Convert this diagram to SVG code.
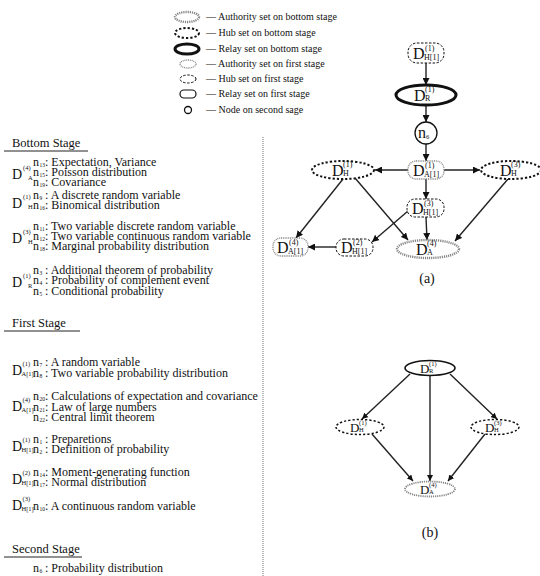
<svg xmlns="http://www.w3.org/2000/svg" width="540" height="576" viewBox="0 0 540 576" font-family="'Liberation Serif', 'Times New Roman', 'DejaVu Serif', serif">
<style>
text{font-family:'Liberation Serif', 'Times New Roman', 'DejaVu Serif', serif;fill:#111}
.lg{font-size:10px}
.t{font-size:12px}
.h{font-size:12.5px}
.sm{font-size:6.5px}
.ns{font-size:5.5px}
.D{font-size:14px}
.Dg{font-size:16px}
.Db{font-size:13px}
.sg{font-size:8px}
.sb{font-size:6.5px}
.cap{font-size:14px}
.authB{fill:#fff;stroke:#888;stroke-width:2.4;stroke-dasharray:1.2 0.9}
.hubB{fill:#fff;stroke:#111;stroke-width:2;stroke-dasharray:2.2 2}
.relB{fill:#fff;stroke:#111;stroke-width:3}
.authF{fill:#fff;stroke:#888;stroke-width:1.3;stroke-dasharray:1 0.8}
.hubF{fill:#fff;stroke:#111;stroke-width:1;stroke-dasharray:2.5 1.5}
.relF{fill:#fff;stroke:#111;stroke-width:1.2}
.sec{fill:#fff;stroke:#111;stroke-width:1.3}
.e{stroke:#222;stroke-width:1.4;fill:none}
</style>
<defs>
<marker id="ah" viewBox="0 0 10 10" refX="10" refY="5" markerWidth="7" markerHeight="7" markerUnits="userSpaceOnUse" orient="auto">
<path d="M0,0 L10,5 L0,10 z" fill="#111"/>
</marker>
<marker id="ahs" viewBox="0 0 10 10" refX="10" refY="5" markerWidth="6" markerHeight="6" markerUnits="userSpaceOnUse" orient="auto">
<path d="M0,0 L10,5 L0,10 z" fill="#111"/>
</marker>
</defs>
<rect width="540" height="576" fill="#fff"/>

<g id="legend">
<ellipse class="authB" cx="187" cy="17" rx="12" ry="5"/>
<text class="lg" x="206" y="20">— Authority set on bottom stage</text>
<ellipse class="hubB" cx="187" cy="33" rx="12" ry="5"/>
<text class="lg" x="206" y="36">— Hub set on bottom stage</text>
<ellipse class="relB" cx="187" cy="49" rx="12" ry="5"/>
<text class="lg" x="206" y="52">— Relay set on bottom stage</text>
<ellipse class="authF" cx="188" cy="64" rx="8" ry="4"/>
<text class="lg" x="206" y="67">— Authority set on first stage</text>
<ellipse class="hubF" cx="188" cy="79" rx="8" ry="4"/>
<text class="lg" x="206" y="82">— Hub set on first stage</text>
<rect class="relF" x="180" y="90" width="16" height="8" rx="4"/>
<text class="lg" x="206" y="97">— Relay set on first stage</text>
<circle class="sec" cx="188" cy="110" r="3.5"/>
<text class="lg" x="206" y="113">— Node on second sage</text>
</g>

<g id="connectors">
<line class="e" x1="426" y1="63" x2="426" y2="85" marker-end="url(#ah)"/>
<line class="e" x1="426" y1="105" x2="426" y2="122" marker-end="url(#ah)"/>
<line class="e" x1="426" y1="144" x2="426" y2="161" marker-end="url(#ah)"/>
<line class="e" x1="408" y1="170" x2="375" y2="170" marker-end="url(#ah)"/>
<line class="e" x1="444" y1="170" x2="480" y2="170" marker-end="url(#ah)"/>
<line class="e" x1="426" y1="179" x2="426" y2="199" marker-end="url(#ah)"/>
<line class="e" x1="426" y1="217" x2="427" y2="240" marker-end="url(#ah)"/>
<line class="e" x1="343" y1="179" x2="296" y2="238" marker-end="url(#ah)"/>
<line class="e" x1="355" y1="178" x2="408" y2="240" marker-end="url(#ah)"/>
<line class="e" x1="408" y1="211" x2="372" y2="242" marker-end="url(#ah)"/>
<line class="e" x1="508" y1="179" x2="455" y2="241" marker-end="url(#ah)"/>
<line class="e" x1="336" y1="247" x2="308" y2="247" marker-end="url(#ah)"/>

<line class="e" x1="410" y1="374" x2="362" y2="419" marker-end="url(#ahs)"/>
<line class="e" x1="450" y1="374" x2="497" y2="419" marker-end="url(#ahs)"/>
<line class="e" x1="430" y1="376" x2="430" y2="481" marker-end="url(#ahs)"/>
<line class="e" x1="372" y1="434" x2="413" y2="481" marker-end="url(#ahs)"/>
<line class="e" x1="485" y1="434" x2="448" y2="481" marker-end="url(#ahs)"/>
</g>

<g id="a-DH11">
<rect class="hubF" x="408" y="43" width="36" height="20" rx="9"/>
<text class="Dg" x="413" y="59">D<tspan class="sg" x="425" y="51">(1)</tspan><tspan class="sg" x="424" y="60">H[1]</tspan></text>
</g>
<g id="a-DR1">
<ellipse class="relB" cx="426" cy="95" rx="30" ry="10"/>
<text class="Dg" x="414" y="101">D<tspan class="sg" x="425" y="92">(1)</tspan><tspan class="sg" x="425" y="101">R</tspan></text>
</g>
<g id="a-n6">
<circle class="sec" cx="426" cy="133" r="11"/>
<text class="Dg" x="418" y="138">n<tspan class="sb" x="426" y="139">6</tspan></text>
</g>
<g id="a-DA11">
<rect class="authF" x="408" y="161" width="36" height="18" rx="8"/>
<text class="Dg" x="413" y="176">D<tspan class="sg" x="425" y="168">(1)</tspan><tspan class="sg" x="424" y="177">A[1]</tspan></text>
</g>
<g id="a-DH1">
<ellipse class="hubB" cx="343" cy="170" rx="31" ry="9"/>
<text class="Dg" x="332" y="176">D<tspan class="sg" x="343" y="167">(1)</tspan><tspan class="sg" x="343" y="176">H</tspan></text>
</g>
<g id="a-DH3">
<ellipse class="hubB" cx="511" cy="170" rx="30" ry="9"/>
<text class="Dg" x="500" y="176">D<tspan class="sg" x="511" y="167">(3)</tspan><tspan class="sg" x="511" y="176">H</tspan></text>
</g>
<g id="a-DH13">
<rect class="hubF" x="407" y="199" width="37" height="18" rx="8"/>
<text class="Dg" x="412" y="214">D<tspan class="sg" x="424" y="206">(3)</tspan><tspan class="sg" x="423" y="215">H[1]</tspan></text>
</g>
<g id="a-DA4">
<ellipse class="authB" cx="428" cy="249" rx="31" ry="9"/>
<text class="Dg" x="416" y="255">D<tspan class="sg" x="427" y="246">(4)</tspan><tspan class="sg" x="427" y="255">A</tspan></text>
</g>
<g id="a-DH12">
<rect class="hubF" x="336" y="239" width="37" height="17" rx="8"/>
<text class="Dg" x="341" y="253">D<tspan class="sg" x="353" y="245">(2)</tspan><tspan class="sg" x="352" y="254">H[1]</tspan></text>
</g>
<g id="a-DA14">
<rect class="authF" x="273" y="238" width="35" height="18" rx="8"/>
<text class="Dg" x="277" y="253">D<tspan class="sg" x="289" y="245">(4)</tspan><tspan class="sg" x="288" y="254">A[1]</tspan></text>
</g>
<text class="cap" x="427" y="283" text-anchor="middle">(a)</text>

<g id="b-DR1">
<ellipse class="relF" cx="430" cy="368" rx="25" ry="7.5" style="stroke-width:1.6"/>
<text class="Db" x="420" y="373">D<tspan class="sb" x="429" y="366">(1)</tspan><tspan class="sb" x="429" y="373">R</tspan></text>
</g>
<g id="b-DH1">
<ellipse class="hubB" cx="360" cy="427" rx="24" ry="7.5" style="stroke-width:1.5"/>
<text class="Db" x="350" y="432">D<tspan class="sb" x="359" y="425">(1)</tspan><tspan class="sb" x="359" y="432">H</tspan></text>
</g>
<g id="b-DH3">
<ellipse class="hubB" cx="495" cy="427" rx="24" ry="7.5" style="stroke-width:1.5"/>
<text class="Db" x="485" y="432">D<tspan class="sb" x="494" y="425">(3)</tspan><tspan class="sb" x="494" y="432">H</tspan></text>
</g>
<g id="b-DA4">
<ellipse class="authB" cx="430" cy="489" rx="25" ry="7.5" style="stroke-width:1.8"/>
<text class="Db" x="420" y="494">D<tspan class="sb" x="429" y="487">(4)</tspan><tspan class="sb" x="429" y="494">A</tspan></text>
</g>
<text class="cap" x="430" y="537" text-anchor="middle">(b)</text>

<line x1="263" y1="137" x2="263" y2="576" stroke="#777" stroke-width="1" stroke-dasharray="1 1"/>

<g id="bottom-stage">
<text class="h" x="12" y="147">Bottom Stage</text>
<line x1="4" y1="151" x2="88" y2="151" stroke="#222" stroke-width="1"/>
<text class="D" x="12" y="179">D<tspan class="sm" x="23" y="170">(4)</tspan><tspan class="sm" x="28" y="180">A</tspan></text>
<text class="t" x="33" y="166">n<tspan class="ns" x="39.5" y="167">13</tspan><tspan x="45" y="166">: Expectation, Variance</tspan></text>
<text class="t" x="33" y="176">n<tspan class="ns" x="39.5" y="177">15</tspan><tspan x="45" y="176">: Poisson distribution</tspan></text>
<text class="t" x="33" y="186">n<tspan class="ns" x="39.5" y="187">19</tspan><tspan x="45" y="186">: Covariance</tspan></text>
<text class="D" x="12" y="208">D<tspan class="sm" x="23" y="199">(1)</tspan><tspan class="sm" x="28" y="209">H</tspan></text>
<text class="t" x="33" y="199">n<tspan class="ns" x="39.5" y="200">9</tspan><tspan x="45" y="199">: A discrete random variable</tspan></text>
<text class="t" x="33" y="209">n<tspan class="ns" x="39.5" y="210">16</tspan><tspan x="45" y="209">: Binomical distribution</tspan></text>
<text class="D" x="12" y="243">D<tspan class="sm" x="23" y="234">(3)</tspan><tspan class="sm" x="28" y="244">H</tspan></text>
<text class="t" x="33" y="230">n<tspan class="ns" x="39.5" y="231">11</tspan><tspan x="45" y="230">: Two variable discrete random variable</tspan></text>
<text class="t" x="33" y="240">n<tspan class="ns" x="39.5" y="241">12</tspan><tspan x="45" y="240">: Two variable continuous random variable</tspan></text>
<text class="t" x="33" y="250">n<tspan class="ns" x="39.5" y="251">18</tspan><tspan x="45" y="250">: Marginal probability distribution</tspan></text>
<text class="D" x="12" y="287">D<tspan class="sm" x="23" y="278">(1)</tspan><tspan class="sm" x="28" y="288">R</tspan></text>
<text class="t" x="33" y="274">n<tspan class="ns" x="39.5" y="275">3</tspan><tspan x="45" y="274">: Additional theorem of probability</tspan></text>
<text class="t" x="33" y="284">n<tspan class="ns" x="39.5" y="285">4</tspan><tspan x="45" y="284">: Probability of complement event</tspan></text>
<text class="t" x="33" y="295">n<tspan class="ns" x="39.5" y="296">5</tspan><tspan x="45" y="295">: Conditional probability</tspan></text>
</g>

<g id="first-stage">
<text class="h" x="12" y="327">First Stage</text>
<line x1="4" y1="331" x2="80" y2="331" stroke="#222" stroke-width="1"/>
<text class="D" x="12" y="375">D<tspan class="sm" x="22.5" y="366">(1)</tspan><tspan class="sm" x="21.5" y="376">A[1]</tspan></text>
<text class="t" x="33" y="366">n<tspan class="ns" x="39.5" y="367">7</tspan><tspan x="45" y="366">: A random variable</tspan></text>
<text class="t" x="33" y="377">n<tspan class="ns" x="39.5" y="378">8</tspan><tspan x="45" y="377">: Two variable probability distribution</tspan></text>
<text class="D" x="12" y="411">D<tspan class="sm" x="22.5" y="402">(4)</tspan><tspan class="sm" x="21.5" y="412">A[1]</tspan></text>
<text class="t" x="33" y="400">n<tspan class="ns" x="39.5" y="401">20</tspan><tspan x="45" y="400">: Calculations of expectation and covariance</tspan></text>
<text class="t" x="33" y="411">n<tspan class="ns" x="39.5" y="412">21</tspan><tspan x="45" y="411">: Law of large numbers</tspan></text>
<text class="t" x="33" y="421">n<tspan class="ns" x="39.5" y="422">22</tspan><tspan x="45" y="421">: Central limit theorem</tspan></text>
<text class="D" x="12" y="451">D<tspan class="sm" x="22.5" y="442">(1)</tspan><tspan class="sm" x="21.5" y="452">H[1]</tspan></text>
<text class="t" x="33" y="443">n<tspan class="ns" x="39.5" y="444">1</tspan><tspan x="45" y="443">: Preparetions</tspan></text>
<text class="t" x="33" y="453">n<tspan class="ns" x="39.5" y="454">2</tspan><tspan x="45" y="453">: Definition of probability</tspan></text>
<text class="D" x="12" y="484">D<tspan class="sm" x="22.5" y="475">(2)</tspan><tspan class="sm" x="21.5" y="485">H[1]</tspan></text>
<text class="t" x="33" y="476">n<tspan class="ns" x="39.5" y="477">14</tspan><tspan x="45" y="476">: Moment-generating function</tspan></text>
<text class="t" x="33" y="486">n<tspan class="ns" x="39.5" y="487">17</tspan><tspan x="45" y="486">: Normal distribution</tspan></text>
<text class="D" x="12" y="510">D<tspan class="sm" x="22.5" y="501">(3)</tspan><tspan class="sm" x="21.5" y="511">H[1]</tspan></text>
<text class="t" x="33" y="510">n<tspan class="ns" x="39.5" y="511">10</tspan><tspan x="45" y="510">: A continuous random variable</tspan></text>
</g>

<g id="second-stage">
<text class="h" x="12" y="553">Second Stage</text>
<line x1="4" y1="557" x2="82" y2="557" stroke="#222" stroke-width="1"/>
<text class="t" x="33" y="572">n<tspan class="ns" x="39.5" y="573">6</tspan><tspan x="45" y="572">: Probability distribution</tspan></text>
</g>
</svg>
